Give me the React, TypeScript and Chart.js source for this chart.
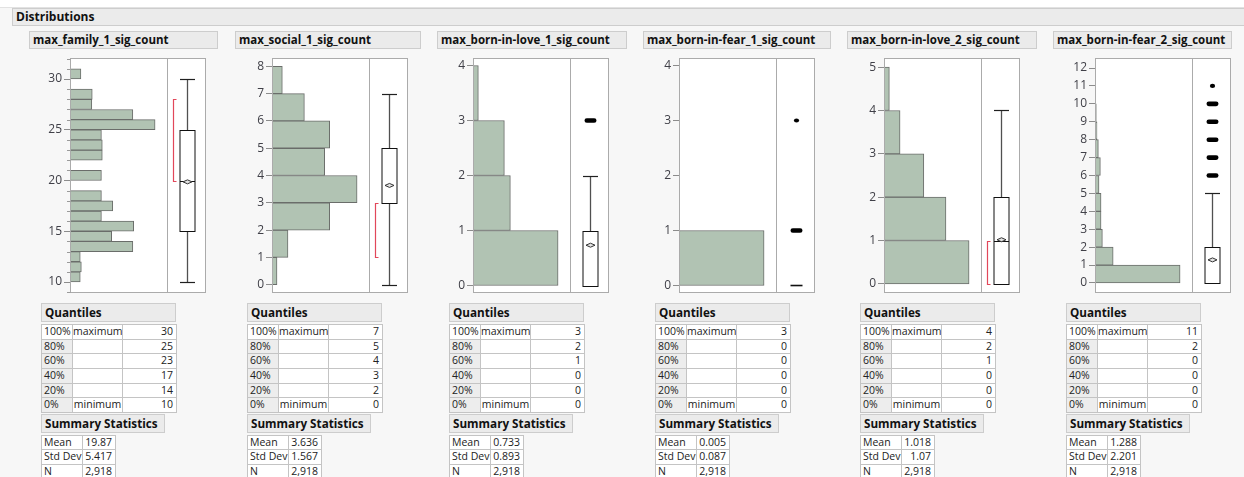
import React, { useEffect, useRef } from "react";
import { Chart, registerables } from "chart.js";

Chart.register(...registerables);

const FONT = "'Open Sans', 'Noto Sans', 'DejaVu Sans', sans-serif";

// ---------------- data ----------------
const variableNames = [
  "max_family_1_sig_count",
  "max_social_1_sig_count",
  "max_born-in-love_1_sig_count",
  "max_born-in-fear_1_sig_count",
  "max_born-in-love_2_sig_count",
  "max_born-in-fear_2_sig_count",
];

// histogram bins (lower edge, width 1) and counts
const familyBinStarts = [10, 11, 12, 13, 14, 15, 16, 17, 18, 20, 22, 23, 24, 25, 26, 27, 28, 30];
const familyCounts = [47, 52, 47, 288, 191, 292, 144, 196, 144, 144, 148, 148, 144, 390, 288, 100, 102, 50];
const socialBinStarts = [0, 1, 2, 3, 4, 5, 6, 7];
const socialCounts = [46, 147, 531, 783, 485, 531, 298, 95];
const love1BinStarts = [0, 1, 2, 3];
const love1Counts = [1560, 685, 575, 98];
const fear1BinStarts = [0, 1, 2, 3];
const fear1Counts = [2905, 12, 0, 1];
const love2BinStarts = [0, 1, 2, 3, 4];
const love2Counts = [1192, 868, 558, 225, 75];
const fear2BinStarts = [0, 1, 2, 3, 4, 5, 6, 7, 8, 9, 10, 11];
const fear2Counts = [1776, 379, 154, 126, 126, 84, 112, 70, 42, 27, 15, 3];

// box plot: [lower whisker, Q1, median, Q3, upper whisker]
const familyBox = [10, 15, 20, 25, 30];
const socialBox = [0, 3, 3, 5, 7];
const love1Box = [0, 0, 0, 1, 2];
const fear1Box = [0, 0, 0, 0, 0];
const love2Box = [0, 0, 1, 2, 4];
const fear2Box = [0, 0, 0, 2, 5];

// shortest half bracket [lo, hi]
const familyShortestHalf = [20, 28];
const socialShortestHalf = [1, 3];
const love1ShortestHalf: number[] = [];
const fear1ShortestHalf: number[] = [];
const love2ShortestHalf = [0, 1];
const fear2ShortestHalf: number[] = [];

// value axis ranges
const familyAxisRange = [8.92, 32.07];
const socialAxisRange = [-0.305, 8.305];
const love1AxisRange = [-0.136, 4.136];
const fear1AxisRange = [-0.136, 4.136];
const love2AxisRange = [-0.21, 5.21];
const fear2AxisRange = [-0.56, 12.56];

// quantiles table
const quantileLevels = ["100%", "80%", "60%", "40%", "20%", "0%"];
const quantileNotes = ["maximum", "", "", "", "", "minimum"];
const familyQuantiles = [30, 25, 23, 17, 14, 10];
const socialQuantiles = [7, 5, 4, 3, 2, 0];
const love1Quantiles = [3, 2, 1, 0, 0, 0];
const fear1Quantiles = [3, 0, 0, 0, 0, 0];
const love2Quantiles = [4, 2, 1, 0, 0, 0];
const fear2Quantiles = [11, 2, 0, 0, 0, 0];

// summary statistics table
const summaryLabels = ["Mean", "Std Dev", "N"];
const familySummary = ["19.87", "5.417", "2,918"];
const socialSummary = ["3.636", "1.567", "2,918"];
const love1Summary = ["0.733", "0.893", "2,918"];
const fear1Summary = ["0.005", "0.087", "2,918"];
const love2Summary = ["1.018", "1.07", "2,918"];
const fear2Summary = ["1.288", "2.201", "2,918"];

// ---------------- layout ----------------
const AXIS_W = 44;
const HIST_W = 97;
const BOX_W = 39;
const PLOT_TOP = 50;
const PLOT_H = 245;

type Panel = {
  name: string;
  bins: number[];
  counts: number[];
  box: number[];
  half: number[];
  axis: number[];
  step: number;
  minor: number;
  quantiles: number[];
  summary: string[];
  left: number;
  titleW: number;
  frameLeft: number;
  tableDx: number;
};

const panels: Panel[] = [
  { name: variableNames[0], bins: familyBinStarts, counts: familyCounts, box: familyBox, half: familyShortestHalf, axis: familyAxisRange, step: 5, minor: 1, quantiles: familyQuantiles, summary: familySummary, left: 29, titleW: 189, frameLeft: 70, tableDx: 12 },
  { name: variableNames[1], bins: socialBinStarts, counts: socialCounts, box: socialBox, half: socialShortestHalf, axis: socialAxisRange, step: 1, minor: 0, quantiles: socialQuantiles, summary: socialSummary, left: 235, titleW: 186, frameLeft: 272, tableDx: 12 },
  { name: variableNames[2], bins: love1BinStarts, counts: love1Counts, box: love1Box, half: love1ShortestHalf, axis: love1AxisRange, step: 1, minor: 0, quantiles: love1Quantiles, summary: love1Summary, left: 437, titleW: 190, frameLeft: 473, tableDx: 12 },
  { name: variableNames[3], bins: fear1BinStarts, counts: fear1Counts, box: fear1Box, half: fear1ShortestHalf, axis: fear1AxisRange, step: 1, minor: 0, quantiles: fear1Quantiles, summary: fear1Summary, left: 643, titleW: 188, frameLeft: 679, tableDx: 12 },
  { name: variableNames[4], bins: love2BinStarts, counts: love2Counts, box: love2Box, half: love2ShortestHalf, axis: love2AxisRange, step: 1, minor: 0, quantiles: love2Quantiles, summary: love2Summary, left: 847, titleW: 190, frameLeft: 884, tableDx: 13 },
  { name: variableNames[5], bins: fear2BinStarts, counts: fear2Counts, box: fear2Box, half: fear2ShortestHalf, axis: fear2AxisRange, step: 1, minor: 0, quantiles: fear2Quantiles, summary: fear2Summary, left: 1053, titleW: 179, frameLeft: 1095, tableDx: 13 },
];

function makeBoxPlugin(p: Panel) {
  return {
    id: "jmpBoxPlot",
    beforeDraw(chart: any) {
      const { ctx, chartArea: a } = chart;
      ctx.save();
      ctx.fillStyle = "#ffffff";
      ctx.fillRect(a.left, a.top, a.right + BOX_W - a.left, a.bottom - a.top);
      ctx.restore();
    },
    afterDraw(chart: any) {
      const { ctx, chartArea: a } = chart;
      const ys = chart.scales.y;
      const py = (v: number) => ys.getPixelForValue(v);
      const line = (x1: number, y1: number, x2: number, y2: number) => {
        ctx.beginPath();
        ctx.moveTo(x1, y1);
        ctx.lineTo(x2, y2);
        ctx.stroke();
      };
      ctx.save();
      // frame
      const L = Math.round(a.left) + 0.5;
      const T = Math.round(a.top) + 0.5;
      const R = Math.round(a.right + BOX_W) - 0.5;
      const B = Math.round(a.bottom) - 0.5;
      const D = Math.round(a.right) + 0.5;
      ctx.strokeStyle = "#ababab";
      ctx.lineWidth = 1;
      ctx.strokeRect(L, T, R - L, B - T);
      line(D, T, D, B);

      // minor ticks
      if (p.minor > 0) {
        ctx.strokeStyle = "#9a9a9a";
        for (let v = Math.ceil(p.axis[0]); v <= p.axis[1]; v += p.minor) {
          if (v % p.step === 0) continue;
          const y = Math.round(py(v)) + 0.5;
          line(L - 3.5, y, L, y);
        }
      }

      const cx = Math.round(a.right + BOX_W / 2) + 0.5;
      const hw = 7.5;
      const [wl, q1, med, q3, wh] = p.box;
      const yq1 = Math.round(py(q1)) + 0.5;
      const yq3 = Math.round(py(q3)) + 0.5;

      // shortest half bracket
      if (p.half.length === 2) {
        const bx = Math.round(cx - hw - 7) + 0.5;
        const yLo = Math.round(py(p.half[0])) + 0.5;
        const yHi = Math.round(py(p.half[1])) + 0.5;
        ctx.strokeStyle = "#e2475a";
        ctx.lineWidth = 1.2;
        ctx.beginPath();
        ctx.moveTo(bx + 3, yHi);
        ctx.lineTo(bx, yHi);
        ctx.lineTo(bx, yLo);
        ctx.lineTo(bx + 3, yLo);
        ctx.stroke();
      }

      // whiskers
      ctx.strokeStyle = "#505050";
      ctx.lineWidth = 1.3;
      if (wh > q3) {
        const yw = Math.round(py(wh)) + 0.5;
        line(cx, yq3, cx, yw);
        ctx.strokeStyle = "#202020";
        ctx.lineWidth = 1.2;
        line(cx - hw, yw, cx + hw, yw);
      }
      ctx.strokeStyle = "#505050";
      ctx.lineWidth = 1.3;
      if (wl < q1) {
        const yw = Math.round(py(wl)) + 0.5;
        line(cx, yq1, cx, yw);
        ctx.strokeStyle = "#202020";
        ctx.lineWidth = 1.2;
        line(cx - hw, yw, cx + hw, yw);
      }

      // box
      if (q3 > q1) {
        ctx.fillStyle = "#ffffff";
        ctx.fillRect(cx - hw, yq3, hw * 2, yq1 - yq3);
        ctx.strokeStyle = "#111111";
        ctx.lineWidth = 1;
        ctx.strokeRect(cx - hw, yq3, hw * 2, yq1 - yq3);
        const ym = Math.round(py(med)) + 0.5;
        line(cx - hw, ym, cx + hw, ym);
        // mean diamond
        const mean = parseFloat(p.summary[0]);
        const yMean = py(mean);
        ctx.beginPath();
        ctx.moveTo(cx - 4.5, yMean);
        ctx.lineTo(cx, yMean - 2);
        ctx.lineTo(cx + 4.5, yMean);
        ctx.lineTo(cx, yMean + 2);
        ctx.closePath();
        ctx.fillStyle = "#e4e4e4";
        ctx.fill();
        ctx.strokeStyle = "#333333";
        ctx.stroke();
      } else {
        ctx.strokeStyle = "#111111";
        ctx.lineWidth = 1.6;
        line(cx - 6, py(q1), cx + 6, py(q1));
      }

      // outliers (values beyond whiskers)
      ctx.fillStyle = "#000000";
      p.bins.forEach((b, i) => {
        const c = p.counts[i];
        if (c <= 0 || (b <= wh && b >= wl)) return;
        const y = py(b);
        if (c > 5) {
          const w = 12;
          const h = 4.6;
          const r = h / 2;
          ctx.beginPath();
          ctx.moveTo(cx - w / 2 + r, y - r);
          ctx.lineTo(cx + w / 2 - r, y - r);
          ctx.arc(cx + w / 2 - r, y, r, -Math.PI / 2, Math.PI / 2);
          ctx.lineTo(cx - w / 2 + r, y + r);
          ctx.arc(cx - w / 2 + r, y, r, Math.PI / 2, (3 * Math.PI) / 2);
          ctx.closePath();
          ctx.fill();
        } else {
          ctx.beginPath();
          ctx.ellipse(cx, y, 2.6, 2.1, 0, 0, Math.PI * 2);
          ctx.fill();
        }
      });
      ctx.restore();
    },
  };
}

function HistBox({ p }: { p: Panel }) {
  const ref = useRef<HTMLCanvasElement>(null);
  useEffect(() => {
    if (!ref.current) return;
    const chart = new Chart(ref.current, {
      type: "bar",
      data: {
        datasets: [
          {
            data: p.bins.map((b, i) => ({ x: p.counts[i], y: b + 0.5 })) as any,
            backgroundColor: "#b1c3b3",
            borderColor: "#6a6d6a",
            borderWidth: 1,
            borderSkipped: false,
            barPercentage: 1,
            categoryPercentage: 1,
          },
        ],
      },
      options: {
        indexAxis: "y",
        responsive: false,
        animation: false,
        events: [],
        layout: { padding: { left: 0, right: BOX_W, top: 8, bottom: 2 } },
        plugins: { legend: { display: false }, tooltip: { enabled: false } },
        scales: {
          x: { type: "linear", display: false, min: 0, max: Math.max(...p.counts) * 1.14 },
          y: {
            type: "linear",
            min: p.axis[0],
            max: p.axis[1],
            offset: false,
            afterFit: (s: any) => {
              s.width = AXIS_W;
              s.paddingTop = 0;
              s.paddingBottom = 0;
            },
            grid: {
              offset: false,
              drawOnChartArea: false,
              drawTicks: true,
              tickLength: 6,
              tickColor: "#8c8c8c",
              color: "#8c8c8c",
            },
            border: { display: false },
            ticks: {
              stepSize: p.step,
              includeBounds: false,
              autoSkip: false,
              padding: 2,
              color: "#404048",
              font: { family: FONT, size: 12 },
            },
          },
        },
      } as any,
      plugins: [makeBoxPlugin(p) as any],
    });
    return () => chart.destroy();
  }, [p]);
  return (
    <canvas
      ref={ref}
      width={AXIS_W + HIST_W + BOX_W}
      height={PLOT_H}
      style={{ position: "absolute", left: p.frameLeft - AXIS_W, top: PLOT_TOP, width: AXIS_W + HIST_W + BOX_W, height: PLOT_H }}
    />
  );
}

function HeaderBox({ x, y, w, h, text, size }: { x: number; y: number; w: number; h: number; text: string; size: number }) {
  return (
    <div
      style={{
        position: "absolute",
        left: x,
        top: y,
        width: w,
        height: h,
        boxSizing: "border-box",
        background: "#ebebeb",
        border: "1px solid #cdcdcd",
        fontWeight: 700,
        fontSize: size,
        lineHeight: `${h - 2}px`,
        paddingLeft: 3,
        color: "#111",
        whiteSpace: "nowrap",
        overflow: "hidden",
      }}
    >
      {text}
    </div>
  );
}

function Grid({
  x,
  y,
  colWidths,
  rowH,
  rows,
  aligns,
  shadeFirstCol,
}: {
  x: number;
  y: number;
  colWidths: number[];
  rowH: number;
  rows: string[][];
  aligns: ("left" | "center" | "right")[];
  shadeFirstCol: boolean;
}) {
  const cells: React.ReactNode[] = [];
  rows.forEach((row, ri) => {
    let cx = x;
    row.forEach((txt, ci) => {
      const w = colWidths[ci];
      const al = aligns[ci];
      cells.push(
        <div
          key={`${ri}-${ci}`}
          style={{
            position: "absolute",
            left: cx,
            top: Math.round(y + ri * rowH),
            width: w + 1,
            height: Math.round(y + (ri + 1) * rowH) - Math.round(y + ri * rowH) + 1,
            boxSizing: "border-box",
            border: "1px solid #c4c4c4",
            background: shadeFirstCol && ci === 0 && ri > 0 ? "#ededed" : "#ffffff",
            fontSize: 10.5,
            lineHeight: `${rowH - 2}px`,
            textAlign: al,
            padding: al === "center" ? "0" : al === "right" ? "0 3px 0 1px" : "0 1px 0 2px",
            color: "#222",
            whiteSpace: "nowrap",
            overflow: "hidden",
          }}
        >
          {txt}
        </div>
      );
      cx += w;
    });
  });
  return <>{cells}</>;
}

function PanelView({ p }: { p: Panel }) {
  const tx = p.left + p.tableDx;
  const qRows = quantileLevels.map((lvl, i) => [lvl, quantileNotes[i], String(p.quantiles[i])]);
  const sRows = summaryLabels.map((lab, i) => [lab, p.summary[i]]);
  return (
    <>
      <HeaderBox x={p.left} y={31} w={p.titleW} h={18} text={p.name} size={11.5} />
      <HistBox p={p} />
      <HeaderBox x={tx} y={303} w={135} h={19} text="Quantiles" size={11.7} />
      <Grid x={tx} y={324.3} colWidths={[31, 50, 54]} rowH={14.57} rows={qRows} aligns={["left", "center", "right"]} shadeFirstCol={true} />
      <HeaderBox x={tx} y={414} w={124} h={19} text="Summary Statistics" size={11.7} />
      <Grid x={tx} y={435} colWidths={[41, 33]} rowH={14.4} rows={sRows} aligns={["left", "right"]} shadeFirstCol={false} />
    </>
  );
}

export default function App() {
  return (
    <div
      style={{
        position: "fixed",
        left: 0,
        top: 0,
        width: 1244,
        height: 477,
        overflow: "hidden",
        background: "#f7f7f7",
        fontFamily: FONT,
      }}
    >
      <div style={{ position: "absolute", left: 0, top: 0, width: 1244, height: 7, background: "#ffffff", borderBottom: "1px solid #e2e2e2" }} />
      <HeaderBox x={12} y={8} w={1240} h={18} text="Distributions" size={12} />
      {panels.map((p) => (
        <PanelView key={p.name} p={p} />
      ))}
    </div>
  );
}
